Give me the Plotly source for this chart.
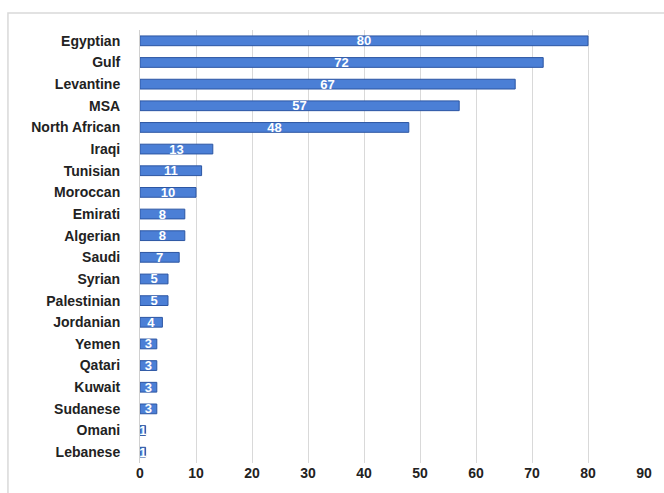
import plotly.graph_objects as go

categories = ["Egyptian", "Gulf", "Levantine", "MSA", "North African", "Iraqi", "Tunisian",
              "Moroccan", "Emirati", "Algerian", "Saudi", "Syrian", "Palestinian", "Jordanian",
              "Yemen", "Qatari", "Kuwait", "Sudanese", "Omani", "Lebanese"]
values = [80, 72, 67, 57, 48, 13, 11, 10, 8, 8, 7, 5, 5, 4, 3, 3, 3, 3, 1, 1]
x_ticks = [0, 10, 20, 30, 40, 50, 60, 70, 80, 90]

fig = go.Figure(go.Bar(
    y=categories, x=values, orientation="h",
    width=0.45,
    marker=dict(color="#4b7fd6", line=dict(color="#2c56a3", width=1)),
    text=[str(v) for v in values],
    textposition="inside", insidetextanchor="middle", constraintext="none",
    textfont=dict(color="white", size=13, family="Liberation Sans", weight="bold"),
    textangle=0,
))

fig.update_layout(
    width=664, height=493,
    margin=dict(l=140, r=20, t=30, b=30),
    paper_bgcolor="white", plot_bgcolor="white",
    showlegend=False,
    font=dict(family="Liberation Sans", color="#222222"),
    shapes=[dict(type="rect", xref="paper", yref="paper",
                 x0=-0.262, x1=1.2, y0=-0.2, y1=1.039,
                 line=dict(color="#d9d9d9", width=1.5), fillcolor="rgba(0,0,0,0)", layer="below")],
)
fig.update_xaxes(range=[0, 90], tickvals=x_ticks, showgrid=True, gridcolor="#d9d9d9",
                 gridwidth=1, zeroline=False, showline=False, ticks="",
                 tickfont=dict(size=14, family="Liberation Sans", color="#222222", weight="bold"))
fig.update_yaxes(categoryorder="array", categoryarray=categories[::-1], autorange=True,
                 showline=True, linecolor="#d0d0d0", linewidth=1, ticks="",
                 ticklabelstandoff=16,
                 tickfont=dict(size=14, family="Liberation Sans", color="#222222", weight="bold"))
fig.write_html("out.html")
